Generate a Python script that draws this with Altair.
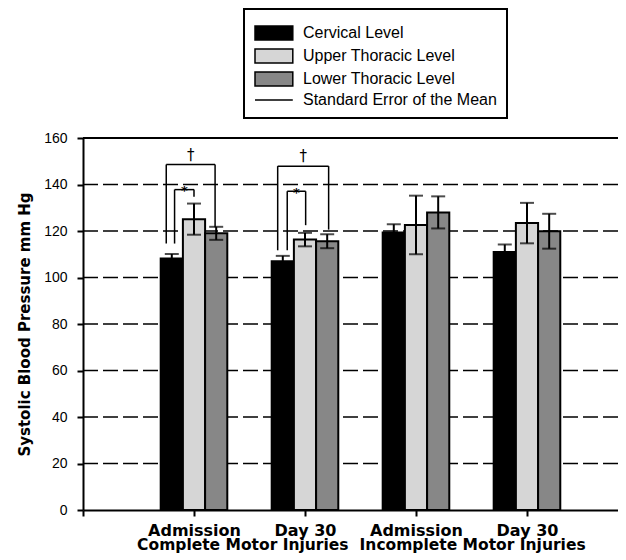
import altair as alt
import pandas as pd

# ---- data ----
timepoints = ["Admission", "Day 30", "Admission", "Day 30"]
injury_groups = ["Complete Motor Injuries", "Incomplete Motor Injuries"]
injury_group_x = [1.44, 3.51]
levels = ["Cervical Level", "Upper Thoracic Level", "Lower Thoracic Level"]
se_label = "Standard Error of the Mean"

cervical = [108.2, 107.0, 119.4, 111.0]
upper_thoracic = [125.1, 116.3, 122.6, 123.4]
lower_thoracic = [119.0, 115.6, 128.0, 119.9]
cervical_se = [1.9, 2.3, 3.5, 3.2]
upper_thoracic_se = [6.7, 2.9, 12.6, 8.7]
lower_thoracic_se = [2.8, 3.0, 6.9, 7.5]

y_ticks = [0, 20, 40, 60, 80, 100, 120, 140, 160]
grid_values = [20, 40, 60, 80, 100, 120, 140]
top_value = [160]

# significance brackets (dagger and asterisk)
bracket_x_left = [0.75, 0.825, 1.754, 1.84]
bracket_x_right = [1.19, 1.0, 2.213, 2.006]
bracket_top = [148.6, 137.8, 147.9, 137.1]
bracket_low_left = [114.6, 114.6, 111.7, 111.7]
bracket_low_right = [121.6, 134.7, 120.6, 122.5]
bracket_symbol = ["†", "*", "†", "*"]
bracket_symbol_y = [150.7, 135.4, 150.0, 134.7]

legend_entries = levels + [se_label]
fill_colors = ["#000000", "#d6d6d6", "#878787", "#000000"]
stroke_colors = ["#000000", "#000000", "#000000", "#000000"]
legend_shapes = ["M-1,-1H4.4V1H-1Z", "M-1,-1H4.4V1H-1Z",
                 "M-1,-1H4.4V1H-1Z", "M-1,0H4.4"]

# ---- tables ----
values_by_level = [cervical, upper_thoracic, lower_thoracic]
se_by_level = [cervical_se, upper_thoracic_se, lower_thoracic_se]
rows = []
for k in range(len(timepoints)):
    for i, lvl in enumerate(levels):
        c = (k + 1) + (i - 1) * 0.2
        v = values_by_level[i][k]
        s = se_by_level[i][k]
        rows.append(dict(level=lvl, x0=c - 0.1, x1=c + 0.1, xc=c, value=v,
                         lo=v - s, hi=v + s))
bars_df = pd.DataFrame(rows)

seg = []
for xl, xr, top, ll, lr in zip(bracket_x_left, bracket_x_right, bracket_top,
                               bracket_low_left, bracket_low_right):
    seg.append(dict(x=xl, x2=xl, y=ll, y2=top))
    seg.append(dict(x=xl, x2=xr, y=top, y2=top))
    seg.append(dict(x=xr, x2=xr, y=lr, y2=top))
seg_df = pd.DataFrame(seg)
sym_df = pd.DataFrame(dict(x=[(a + b) / 2 for a, b in zip(bracket_x_left, bracket_x_right)],
                           y=bracket_symbol_y, s=bracket_symbol,
                           big=[s == "†" for s in bracket_symbol]))
grid_df = pd.DataFrame(dict(y=grid_values))
top_df = pd.DataFrame(dict(y=top_value))
grp_df = pd.DataFrame(dict(x=injury_group_x, g=injury_groups))
leg_df = pd.DataFrame(dict(level=legend_entries))

# ---- scales / axes ----
label_list = "[''," + ",".join("'" + t + "'" for t in timepoints) + "]"
xscale = alt.Scale(domain=[0, 4.82], nice=False, zero=False, padding=0)
yscale = alt.Scale(domain=[0, 160], nice=False, padding=0)
xaxis = alt.Axis(values=[0, 1, 2, 3, 4], labelExpr=label_list + "[datum.value]",
                 grid=False, domainColor="black", domainWidth=2, tickColor="black",
                 tickWidth=2, tickSize=6, labelFont="DejaVu Sans", labelFontWeight="bold",
                 labelFontSize=16, labelColor="black", labelBaseline="alphabetic",
                 labelPadding=19, labelAngle=0, labelFlush=False, labelOverlap=False)
yaxis = alt.Axis(values=y_ticks, grid=False, domainColor="black", domainWidth=2,
                 tickColor="black", tickWidth=2, tickSize=6, labelFont="Liberation Sans",
                 labelFontSize=14, labelColor="black", labelPadding=10,
                 title="Systolic Blood Pressure mm Hg", titleFont="DejaVu Sans",
                 titleFontSize=15, titleFontWeight="bold", titleColor="black",
                 titlePadding=11)

def X(f):
    return alt.X(f, type="quantitative", scale=xscale, axis=xaxis, title=None)

def Y(f):
    return alt.Y(f, type="quantitative", scale=yscale, axis=yaxis)

legend = alt.Legend(title=" ", titleFontSize=6, titlePadding=0, orient="none",
                    legendX=161, legendY=-129,
                    direction="vertical", strokeColor="black", padding=10,
                    symbolSize=196, symbolStrokeColor="black", symbolStrokeWidth=1.5,
                    symbolOpacity=1, labelFont="Liberation Sans", labelFontSize=16,
                    labelColor="black", labelOffset=33, rowPadding=3, labelLimit=400)
fill = alt.Fill("level:N", scale=alt.Scale(domain=legend_entries, range=fill_colors),
                legend=legend)
shape = alt.Shape("level:N", scale=alt.Scale(domain=legend_entries, range=legend_shapes),
                  legend=legend)
stroke = alt.Stroke("level:N", scale=alt.Scale(domain=legend_entries, range=stroke_colors),
                    legend=legend)

grid = alt.Chart(grid_df).mark_rule(color="black", strokeWidth=1.5,
                                    strokeDash=[15, 5]).encode(y=Y("y"))
topline = alt.Chart(top_df).mark_rule(color="black", strokeWidth=2).encode(y=Y("y"))
bars = alt.Chart(bars_df).mark_bar(stroke="black", strokeWidth=2).encode(
    x=X("x0"), x2="x1", y=Y("value"), y2=alt.datum(0), fill=fill)
err = alt.Chart(bars_df).mark_rule(color="black", strokeWidth=2).encode(
    x=X("xc"), y=Y("lo"), y2="hi")
cap_hi = alt.Chart(bars_df).mark_tick(color="black", orient="horizontal", size=14,
                                      thickness=2).encode(x=X("xc"), y=Y("hi"))
cap_lo = alt.Chart(bars_df).mark_tick(color="black", orient="horizontal", size=14,
                                      thickness=2).encode(x=X("xc"), y=Y("lo"))
brackets = alt.Chart(seg_df).mark_rule(color="black", strokeWidth=1.5).encode(
    x=X("x"), x2="x2", y=Y("y"), y2="y2")
dag = alt.Chart(sym_df).transform_filter("datum.big").mark_text(
    font="DejaVu Sans", fontSize=15, color="black", baseline="alphabetic").encode(
    x=X("x"), y=Y("y"), text="s:N")
ast = alt.Chart(sym_df).transform_filter("!datum.big").mark_text(
    font="DejaVu Sans", fontSize=13, fontWeight="bold", color="black",
    baseline="alphabetic").encode(x=X("x"), y=Y("y"), text="s:N")
grp = alt.Chart(grp_df).mark_text(font="DejaVu Sans", fontWeight="bold", fontSize=15.5,
                                  color="black", baseline="alphabetic").encode(
    x=X("x"), y=alt.value(412), text="g:N")
leg = alt.Chart(leg_df).transform_filter("false").mark_point(
    filled=True, strokeWidth=1.5).encode(
    x=X("x"), fill=fill, shape=shape, stroke=stroke)

chart = alt.layer(grid, topline, bars, err, cap_hi, cap_lo, brackets, dag, ast, grp, leg)
chart = chart.properties(
    width=535, height=372,
    autosize=alt.AutoSizeParams(type="none"),
    padding={"left": 75, "top": 130, "right": 0, "bottom": 45},
    background="white",
).configure_view(stroke=None).configure_legend(strokeWidth=2)

chart.save("out.html", embed_options={"renderer": "svg", "actions": False})
